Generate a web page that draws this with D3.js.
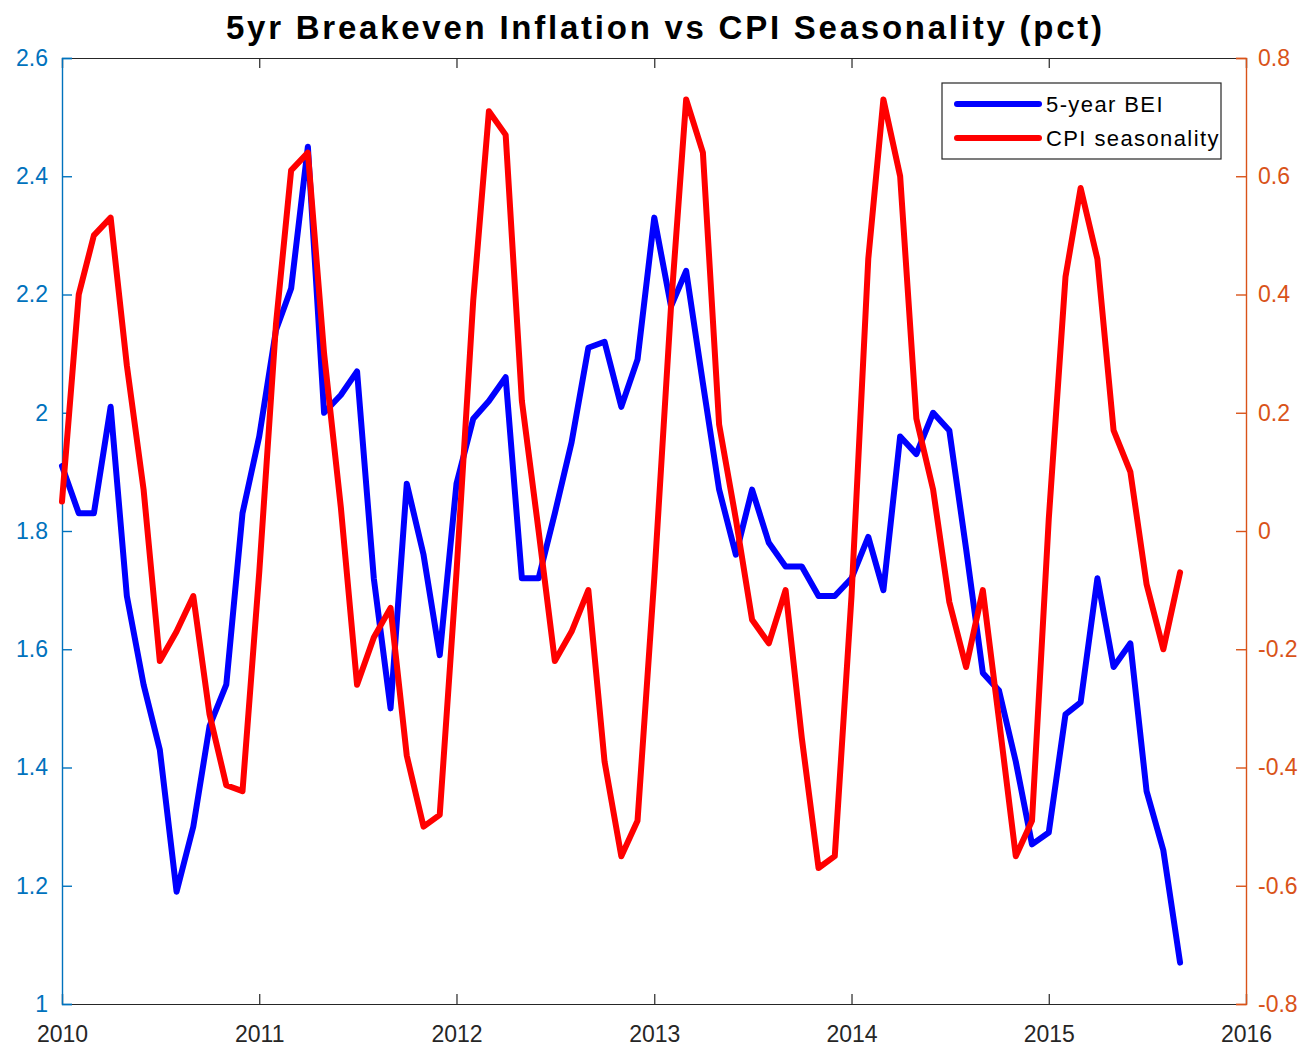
<!DOCTYPE html>
<html lang="en">
<head>
<meta charset="UTF-8">
<script src="https://d3js.org/d3.v7.min.js"></script>
<style>
  body { margin: 0; background: #fff; }
  text { font-family: "Liberation Sans", Arial, Helvetica, sans-serif; }
</style>
</head>
<body>
<div class="chart"></div>
<script>
// monthly data, Jan 2010 .. Sep 2015
var bei = [1.91, 1.83, 1.83, 2.01, 1.69, 1.54, 1.43, 1.19, 1.30, 1.47, 1.54, 1.83,
           1.96, 2.14, 2.21, 2.45, 2.00, 2.03, 2.07, 1.72, 1.50, 1.88, 1.76, 1.59,
           1.88, 1.99, 2.02, 2.06, 1.72, 1.72, 1.83, 1.95, 2.11, 2.12, 2.01, 2.09,
           2.33, 2.18, 2.24, 2.05, 1.87, 1.76, 1.87, 1.78, 1.74, 1.74, 1.69, 1.69,
           1.72, 1.79, 1.70, 1.96, 1.93, 2.00, 1.97, 1.77, 1.56, 1.53, 1.41, 1.27,
           1.29, 1.49, 1.51, 1.72, 1.57, 1.61, 1.36, 1.26, 1.07]
var cpiSeas = [0.05, 0.40, 0.50, 0.53, 0.28, 0.07, -0.22, -0.17, -0.11, -0.31, -0.43, -0.44,
               -0.07, 0.35, 0.61, 0.64, 0.30, 0.04, -0.26, -0.18, -0.13, -0.38, -0.50, -0.48,
               -0.07, 0.39, 0.71, 0.67, 0.22, 0.00, -0.22, -0.17, -0.10, -0.39, -0.55, -0.49,
               -0.08, 0.38, 0.73, 0.64, 0.18, 0.02, -0.15, -0.19, -0.10, -0.35, -0.57, -0.55,
               -0.11, 0.46, 0.73, 0.60, 0.19, 0.07, -0.12, -0.23, -0.10, -0.32, -0.55, -0.49,
               0.02, 0.43, 0.58, 0.46, 0.17, 0.10, -0.09, -0.20, -0.07]
var leftTicks = [1, 1.2, 1.4, 1.6, 1.8, 2, 2.2, 2.4, 2.6]
var rightTicks = [-0.8, -0.6, -0.4, -0.2, 0, 0.2, 0.4, 0.6, 0.8]
var yearTicks = [2010, 2011, 2012, 2013, 2014, 2015, 2016]
var seriesNames = ["5-year BEI", "CPI seasonality"]

var W = 1316, H = 1049
var margin = { top: 58, right: 70, bottom: 45, left: 62 }
var width = W - margin.left - margin.right
var height = H - margin.top - margin.bottom

var months = bei.map(function (d, i) { return new Date(2010, i, 1) })

var svg = d3.select(".chart").append("svg")
    .attr("width", W)
    .attr("height", H)
var g = svg.append("g")
    .attr("transform", "translate(" + margin.left + "," + margin.top + ")")

var x = d3.scaleTime()
    .domain([new Date(2010, 0, 1), new Date(2016, 0, 1)])
    .range([0, width])
var yL = d3.scaleLinear().domain([1, 2.6]).range([height, 0])
var yR = d3.scaleLinear().domain([-0.8, 0.8]).range([height, 0])

var leftColor = "#0072BD", rightColor = "#D95319", axisColor = "#262626"
var numFmt = function (d) { return String(+d.toFixed(1)) }
var yearDates = yearTicks.map(function (y) { return new Date(y, 0, 1) })

// top frame line with inward ticks
var xTop = g.append("g")
    .call(d3.axisTop(x).tickValues(yearDates).tickSize(-10).tickFormat(""))
xTop.select(".domain").attr("stroke", axisColor).attr("stroke-width", 1.2)
xTop.selectAll(".tick line").attr("stroke", axisColor).attr("stroke-width", 1.2)

// bottom axis
var xAxis = g.append("g")
    .attr("transform", "translate(0," + height + ")")
    .call(d3.axisBottom(x).tickValues(yearDates)
        .tickSize(-10).tickPadding(22).tickFormat(d3.timeFormat("%Y")))
xAxis.select(".domain").attr("stroke", axisColor).attr("stroke-width", 1.2)
xAxis.selectAll(".tick line").attr("stroke", axisColor).attr("stroke-width", 1.2)
xAxis.selectAll(".tick text").attr("fill", axisColor).style("font-size", "23px")

// left axis
var yAxisL = g.append("g")
    .call(d3.axisLeft(yL).tickValues(leftTicks).tickSize(-10).tickPadding(14).tickFormat(numFmt))
yAxisL.select(".domain").attr("stroke", leftColor).attr("stroke-width", 1.4)
yAxisL.selectAll(".tick line").attr("stroke", leftColor).attr("stroke-width", 1.4)
yAxisL.selectAll(".tick text").attr("fill", leftColor).style("font-size", "23px")

// right axis
var yAxisR = g.append("g")
    .attr("transform", "translate(" + width + ",0)")
    .call(d3.axisRight(yR).tickValues(rightTicks).tickSize(-10).tickPadding(12).tickFormat(numFmt))
yAxisR.select(".domain").attr("stroke", rightColor).attr("stroke-width", 1.4)
yAxisR.selectAll(".tick line").attr("stroke", rightColor).attr("stroke-width", 1.4)
yAxisR.selectAll(".tick text").attr("fill", rightColor).style("font-size", "23px")

g.selectAll(".domain").attr("fill", "none")

// lines
var lineL = d3.line().x(function (d, i) { return x(months[i]) }).y(function (d) { return yL(d) })
var lineR = d3.line().x(function (d, i) { return x(months[i]) }).y(function (d) { return yR(d) })

g.append("path")
    .datum(bei)
    .attr("d", lineL)
    .attr("fill", "none")
    .attr("stroke", "#0000FF")
    .attr("stroke-width", 6)
    .attr("stroke-linejoin", "round")
    .attr("stroke-linecap", "round")

g.append("path")
    .datum(cpiSeas)
    .attr("d", lineR)
    .attr("fill", "none")
    .attr("stroke", "#FF0000")
    .attr("stroke-width", 6)
    .attr("stroke-linejoin", "round")
    .attr("stroke-linecap", "round")

// title
svg.append("text")
    .attr("x", 664)
    .attr("y", 39)
    .attr("text-anchor", "middle")
    .attr("font-weight", "bold")
    .attr("fill", "#000")
    .attr("textLength", 876)
    .attr("lengthAdjust", "spacing")
    .style("font-size", "33px")
    .text("5yr Breakeven Inflation vs CPI Seasonality (pct)")

// legend
var legend = svg.append("g").attr("transform", "translate(942,83)")
legend.append("rect")
    .attr("width", 279).attr("height", 76)
    .attr("fill", "#fff").attr("stroke", axisColor).attr("stroke-width", 1.2)
var legColors = ["#0000FF", "#FF0000"]
seriesNames.forEach(function (name, i) {
    var yy = 21 + i * 34
    legend.append("line")
        .attr("x1", 15).attr("x2", 97).attr("y1", yy).attr("y2", yy)
        .attr("stroke", legColors[i]).attr("stroke-width", 6).attr("stroke-linecap", "round")
    legend.append("text")
        .attr("x", 104).attr("y", yy + 8)
        .attr("fill", "#000")
        .style("font-size", "22px")
        .style("letter-spacing", "1.4px")
        .text(name)
})
</script>
</body>
</html>
